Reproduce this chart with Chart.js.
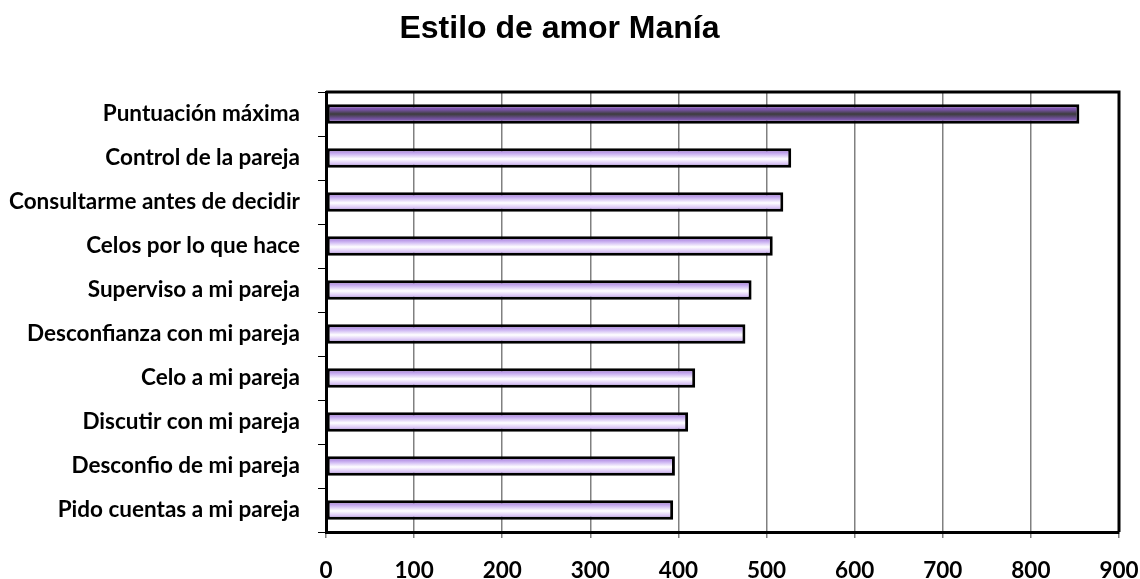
<!DOCTYPE html>
<html>
<head>
<meta charset="utf-8">
<script src="https://cdn.jsdelivr.net/npm/chart.js@4"></script>
<style>
  html, body { margin: 0; padding: 0; background: #fff; }
  #wrap { width: 1140px; height: 579px; }
</style>
</head>
<body>
<div id="wrap"><canvas id="myChart"></canvas></div>
<script>
const categories = ['Puntuación máxima','Control de la pareja','Consultarme antes de decidir','Celos por lo que hace','Superviso a mi pareja','Desconfianza con mi pareja','Celo a mi pareja','Discutir con mi pareja','Desconfio de mi pareja','Pido cuentas a mi pareja'];
const values = [855,528,519,507,483,476,419,411,396,394];
const xTicks = [0,100,200,300,400,500,600,700,800,900];

const labelFont = { family: 'Lato', size: 22.5, weight: 'bold' };

// gradient fill per bar, purple edges, light (or dark for the first) middle
function barFill(c) {
  const chart = c.chart;
  const y = chart.scales && chart.scales.y;
  if (!y || c.type !== 'data') return '#c8b0ee';
  const mid = y.getPixelForValue(c.dataIndex);
  if (!Number.isFinite(mid)) return '#c8b0ee';
  const g = chart.ctx.createLinearGradient(0, mid - 9, 0, mid + 9);
  if (c.dataIndex === 0) {
    g.addColorStop(0, '#9966cc');
    g.addColorStop(0.25, '#7a54a8');
    g.addColorStop(0.5, '#3c3c3c');
    g.addColorStop(0.75, '#70509a');
    g.addColorStop(1, '#a67ada');
  } else {
    g.addColorStop(0, '#9a6cd6');
    g.addColorStop(0.3, '#d0baf3');
    g.addColorStop(0.55, '#ffffff');
    g.addColorStop(0.8, '#dcc8f6');
    g.addColorStop(1, '#a07ad8');
  }
  return g;
}

const frame = {
  id: 'frame',
  afterDraw(chart) {
    const a = chart.chartArea, ctx = chart.ctx;
    ctx.save();
    ctx.strokeStyle = '#000';
    ctx.lineWidth = 3;
    ctx.beginPath();
    ctx.moveTo(a.left, a.top);
    ctx.lineTo(a.right, a.top);
    ctx.lineTo(a.right, a.bottom);
    ctx.stroke();
    ctx.restore();
  }
};

new Chart(document.getElementById('myChart'), {
  type: 'bar',
  data: {
    labels: categories,
    datasets: [{
      data: values,
      backgroundColor: barFill,
      borderColor: '#000',
      borderWidth: 3,
      borderSkipped: false,
      barPercentage: 0.44,
      categoryPercentage: 1
    }]
  },
  options: {
    indexAxis: 'y',
    responsive: true,
    maintainAspectRatio: false,
    animation: false,
    layout: { padding: { top: 0, right: 21, bottom: 0, left: 0 } },
    plugins: {
      legend: { display: false },
      tooltip: { enabled: false },
      title: {
        display: true,
        text: 'Estilo de amor Manía',
        color: '#000',
        font: { family: 'Liberation Sans', size: 32, weight: 'bold' },
        padding: { top: 10, bottom: 43.6 }
      }
    },
    scales: {
      x: {
        min: 0,
        max: 900,
        afterBuildTicks: (s) => { s.ticks = xTicks.map(v => ({ value: v })); },
        afterFit: (s) => { s.height = 47; s.paddingLeft = 0; s.paddingRight = 0; },
        grid: { color: '#808080', lineWidth: 1.5, tickLength: 6 },
        border: { color: '#000', width: 3 },
        ticks: { color: '#000', font: labelFont, padding: 19, maxRotation: 0 }
      },
      y: {
        afterFit: (s) => { s.width = 326; s.paddingTop = 0; s.paddingBottom = 0; },
        grid: { drawOnChartArea: false, color: '#000', lineWidth: 1, tickLength: 8 },
        border: { color: '#000', width: 3 },
        ticks: { color: '#000', font: labelFont, padding: 18 }
      }
    }
  },
  plugins: [frame]
});
</script>
</body>
</html>
